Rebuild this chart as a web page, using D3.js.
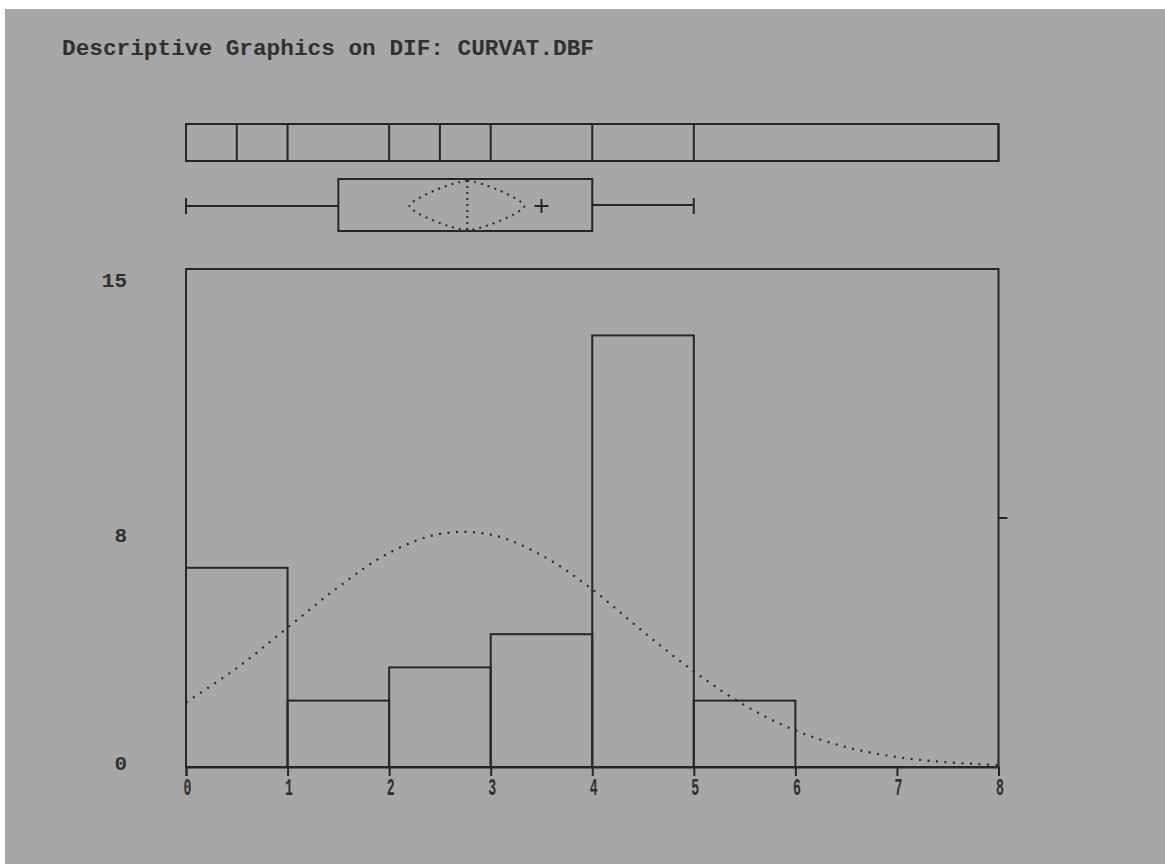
<!DOCTYPE html>
<html>
<head>
<meta charset="utf-8">
<script src="https://cdn.jsdelivr.net/npm/d3@7"></script>
<style>
  html, body { margin: 0; padding: 0; background: #ffffff; }
  svg { display: block; }
</style>
</head>
<body>
<svg id="chart" width="1165" height="864"></svg>
<script>
// ---------------- data ----------------
const titleText = "Descriptive Graphics on DIF: CURVAT.DBF";
const binStarts = [0, 1, 2, 3, 4, 5, 6, 7];
const binCounts = [6, 2, 3, 4, 13, 2, 0, 0];
const xTickValues = [0, 1, 2, 3, 4, 5, 6, 7, 8];
const xTickLabels = ["0", "1", "2", "3", "4", "5", "6", "7", "8"];
const yTickValues = [0, 7.5, 15];
const yTickLabels = ["0", "8", "15"];
// normal curve
const curveX = [0, 0.5, 1, 1.5, 2, 2.5, 3, 3.5, 4, 4.5, 5, 5.5, 6, 6.5, 7, 7.5, 8];
const curveY = [1.95, 2.98, 4.2, 5.42, 6.45, 7.02, 7.0, 6.38, 5.35, 4.08, 2.88, 1.86, 1.1, 0.6, 0.3, 0.14, 0.06];
// quantile strip dividers
const stripMarks = [0, 0.5, 1, 2, 2.5, 3, 4, 5, 8];
// box plot statistics
const whiskerLow = 0, q1 = 1.5, median = 3.5, q3 = 4, whiskerHigh = 5;
const meanValue = 2.77, ciLow = 2.2, ciHigh = 3.33;

// ---------------- drawing ----------------
const svg = d3.select("#chart");
const ink = "#262626";
const mono = "'Liberation Mono','DejaVu Sans Mono',monospace";

svg.append("rect").attr("x", 5).attr("y", 9).attr("width", 1160).attr("height", 855)
  .attr("fill", "#a7a7a7");

const x = d3.scaleLinear().domain([0, 8]).range([186, 998.5]);
const y = d3.scaleLinear().domain([0, 15]).range([767, 269]);

// title
svg.append("text").attr("x", 62).attr("y", 55)
  .attr("font-family", mono).attr("font-size", 22.5).attr("font-weight", "bold")
  .attr("fill", "#303030").attr("textLength", 532).attr("lengthAdjust", "spacingAndGlyphs")
  .text(titleText);

// frame
svg.append("rect")
  .attr("x", x(0)).attr("y", y(15))
  .attr("width", x(8) - x(0)).attr("height", y(0) - y(15))
  .attr("fill", "none").attr("stroke", ink).attr("stroke-width", 2);

// histogram bars
svg.append("g").selectAll("rect").data(binStarts.map((s, i) => ({ s, c: binCounts[i] })).filter(d => d.c > 0))
  .join("rect")
  .attr("x", d => x(d.s)).attr("y", d => y(d.c))
  .attr("width", d => x(d.s + 1) - x(d.s)).attr("height", d => y(0) - y(d.c))
  .attr("fill", "none").attr("stroke", ink).attr("stroke-width", 2);

// x axis ticks + labels
const xAxis = d3.axisBottom(x).tickValues(xTickValues).tickSize(9).tickFormat((d, i) => xTickLabels[i]);
const gx = svg.append("g").attr("transform", `translate(0,${y(0)})`).call(xAxis);
gx.select(".domain").attr("stroke", ink).attr("stroke-width", 2);
gx.selectAll(".tick line").attr("stroke", ink).attr("stroke-width", 2);
gx.selectAll(".tick text").each(function () {
  const t = d3.select(this);
  t.attr("y", null).attr("dy", null)
   .attr("font-family", mono).attr("font-size", 24).attr("font-weight", "bold").attr("fill", "#303030")
   .attr("text-anchor", "middle")
   .attr("transform", "translate(1,28) scale(0.55,1)")
   .attr("x", 0);
});

// y labels (left) and right tick
const yNudge = [-4, 17, 11];
svg.append("g").selectAll("text").data(yTickValues)
  .join("text")
  .attr("x", 127).attr("y", (d, i) => y(d) + yNudge[i] + 7)
  .attr("text-anchor", "end")
  .attr("font-family", mono).attr("font-size", 21).attr("font-weight", "bold").attr("fill", "#303030")
  .text((d, i) => yTickLabels[i]);

svg.append("line").attr("x1", x(8)).attr("x2", x(8) + 9)
  .attr("y1", y(yTickValues[1])).attr("y2", y(yTickValues[1]))
  .attr("stroke", ink).attr("stroke-width", 2);

// dotted normal curve
const curvePts = curveX.map((v, i) => [v, curveY[i]]);
svg.append("path").datum(curvePts)
  .attr("d", d3.line().x(d => x(d[0])).y(d => y(d[1])).curve(d3.curveCatmullRom))
  .attr("fill", "none").attr("stroke", "#2a2a2a").attr("stroke-width", 2.2)
  .attr("stroke-dasharray", "2,6.5");

// quantile strip
const stripTop = 124, stripBot = 161;
svg.append("rect").attr("x", x(0)).attr("y", stripTop)
  .attr("width", x(8) - x(0)).attr("height", stripBot - stripTop)
  .attr("fill", "none").attr("stroke", ink).attr("stroke-width", 2);
svg.append("g").selectAll("line").data(stripMarks)
  .join("line")
  .attr("x1", d => x(d)).attr("x2", d => x(d))
  .attr("y1", stripTop).attr("y2", stripBot)
  .attr("stroke", ink).attr("stroke-width", 2);

// box plot
const boxTop = 179, boxBot = 231, boxMid = 206;
svg.append("rect").attr("x", x(q1)).attr("y", boxTop)
  .attr("width", x(q3) - x(q1)).attr("height", boxBot - boxTop)
  .attr("fill", "none").attr("stroke", ink).attr("stroke-width", 2);
svg.append("line").attr("x1", x(whiskerLow)).attr("x2", x(q1)).attr("y1", boxMid).attr("y2", boxMid)
  .attr("stroke", ink).attr("stroke-width", 2);
svg.append("line").attr("x1", x(q3)).attr("x2", x(whiskerHigh)).attr("y1", boxMid - 1).attr("y2", boxMid - 1)
  .attr("stroke", ink).attr("stroke-width", 2);
[whiskerLow, whiskerHigh].forEach(v => {
  svg.append("line").attr("x1", x(v)).attr("x2", x(v)).attr("y1", boxMid - 8).attr("y2", boxMid + 8)
    .attr("stroke", ink).attr("stroke-width", 2);
});
// mean diamond (dotted)
const diamond = [[ciLow, boxMid], [meanValue, boxTop + 2], [ciHigh, boxMid], [meanValue, boxBot - 1]];
svg.append("path").datum(diamond)
  .attr("d", d3.line().x(d => x(d[0])).y(d => d[1]).curve(d3.curveCardinalClosed.tension(0.25)))
  .attr("fill", "none").attr("stroke", "#2a2a2a").attr("stroke-width", 2)
  .attr("stroke-dasharray", "2,5");
svg.append("line").attr("x1", x(meanValue)).attr("x2", x(meanValue))
  .attr("y1", boxTop + 1).attr("y2", boxBot - 1)
  .attr("stroke", "#2a2a2a").attr("stroke-width", 2).attr("stroke-dasharray", "2,4");
// median plus
const mx = x(median);
svg.append("line").attr("x1", mx - 7).attr("x2", mx + 7).attr("y1", boxMid).attr("y2", boxMid)
  .attr("stroke", ink).attr("stroke-width", 2);
svg.append("line").attr("x1", mx).attr("x2", mx).attr("y1", boxMid - 7).attr("y2", boxMid + 7)
  .attr("stroke", ink).attr("stroke-width", 2);
</script>
</body>
</html>
